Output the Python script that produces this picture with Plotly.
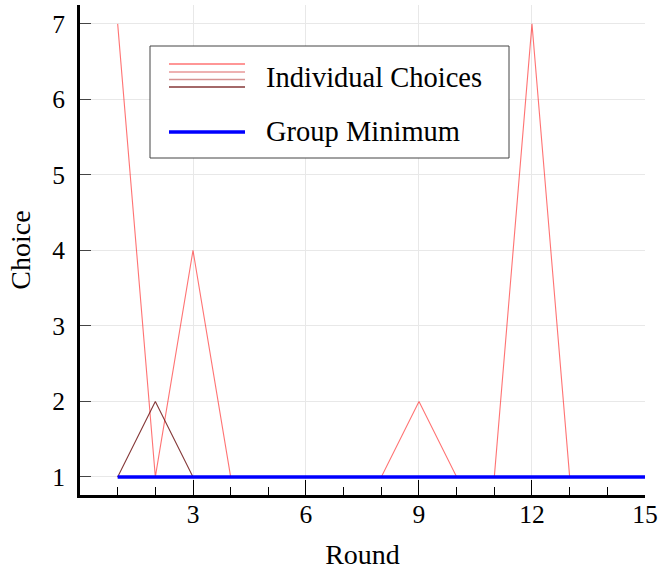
import plotly.graph_objects as go

# Rounds of the minimum-effort game
rounds = list(range(1, 16))

# Choices of each individual player per round
player_1 = [7, 1, 4, 1, 1, 1, 1, 1, 2, 1, 1, 7, 1, 1, 1]
player_2 = [1, 1, 1, 1, 1, 1, 1, 1, 1, 1, 1, 1, 1, 1, 1]
player_3 = [1, 1, 1, 1, 1, 1, 1, 1, 1, 1, 1, 1, 1, 1, 1]
player_4 = [1, 2, 1, 1, 1, 1, 1, 1, 1, 1, 1, 1, 1, 1, 1]
players = [player_1, player_2, player_3, player_4]

# Minimum choice of the group per round
group_min = [1, 1, 1, 1, 1, 1, 1, 1, 1, 1, 1, 1, 1, 1, 1]

x_ticks = [3, 6, 9, 12, 15]
y_ticks = [1, 2, 3, 4, 5, 6, 7]

# Styling
W, H = 658, 570
M_L, M_R, M_T, M_B = 80, 13, 5, 75
player_colors = [
    "rgba(255,40,40,0.65)",
    "rgba(215,70,70,0.55)",
    "rgba(185,75,75,0.6)",
    "rgba(110,20,20,0.85)",
]
min_color = "#0000ff"
FONT = "Liberation Serif"
FS = 28
FS_TICK = 25.5
FS_LEG = 28.5

fig = go.Figure()
for vals, col in zip(players, player_colors):
    fig.add_trace(go.Scatter(x=rounds, y=vals, mode="lines",
                             line=dict(color=col, width=1.1),
                             showlegend=False, hoverinfo="skip"))
fig.add_trace(go.Scatter(x=rounds, y=group_min, mode="lines",
                         line=dict(color=min_color, width=3.5),
                         showlegend=False, hoverinfo="skip"))

plot_w = W - M_L - M_R
plot_h = H - M_T - M_B


def px(p):
    return (p - M_L) / plot_w


def py(p):
    return (H - M_B - p) / plot_h


# Hand-built legend box
shapes = [dict(type="rect", xref="paper", yref="paper",
               x0=px(150), x1=px(509), y0=py(158), y1=py(46),
               fillcolor="white", line=dict(color="#444444", width=1),
               layer="above")]
for yy, col in zip([64, 72, 79.5, 87], player_colors):
    shapes.append(dict(type="line", xref="paper", yref="paper",
                       x0=px(169), x1=px(245), y0=py(yy), y1=py(yy),
                       line=dict(color=col, width=1.3), layer="above"))
shapes.append(dict(type="line", xref="paper", yref="paper",
                   x0=px(169), x1=px(245), y0=py(132), y1=py(132),
                   line=dict(color=min_color, width=3.5), layer="above"))

annotations = [
    dict(text="Individual Choices", xref="paper", yref="paper",
         x=px(264), y=py(77), xanchor="left", yanchor="middle",
         showarrow=False, font=dict(family=FONT, size=FS_LEG, color="black")),
    dict(text="Group Minimum", xref="paper", yref="paper",
         x=px(264), y=py(131), xanchor="left", yanchor="middle",
         showarrow=False, font=dict(family=FONT, size=FS_LEG, color="black")),
]

fig.update_layout(
    width=W, height=H,
    margin=dict(l=M_L, r=M_R, t=M_T, b=M_B, autoexpand=False),
    paper_bgcolor="white", plot_bgcolor="white",
    font=dict(family=FONT, size=FS, color="black"),
    shapes=shapes, annotations=annotations,
    showlegend=False,
)
fig.update_xaxes(
    range=[0, 15.0005], tickvals=x_ticks, ticktext=[str(v) for v in x_ticks],
    tickfont=dict(family=FONT, size=FS_TICK),
    ticks="inside", ticklen=15, tickwidth=1.2, tickcolor="black",
    showline=True, linewidth=3, linecolor="black", zeroline=False,
    showgrid=True, gridcolor="#e8e8e8", gridwidth=1,
    minor=dict(tickmode="linear", tick0=0, dtick=1, ticks="inside",
               ticklen=8, tickwidth=1.2, tickcolor="black", showgrid=False),
    ticklabelstandoff=-6, ticklabeloverflow="allow", automargin=False,
    title=dict(text="Round", standoff=22, font=dict(family=FONT, size=FS)),
)
fig.update_yaxes(
    range=[0.76, 7.25], tickvals=y_ticks, ticktext=[str(v) for v in y_ticks],
    tickfont=dict(family=FONT, size=FS_TICK),
    ticks="inside", ticklen=11, tickwidth=1.2, tickcolor="#444444",
    showline=True, linewidth=3, linecolor="black", zeroline=False,
    showgrid=True, gridcolor="#e8e8e8", gridwidth=1,
    ticklabelstandoff=7, automargin=False,
    title=dict(text="Choice", standoff=14, font=dict(family=FONT, size=FS)),
)

fig.write_html("out.html")
